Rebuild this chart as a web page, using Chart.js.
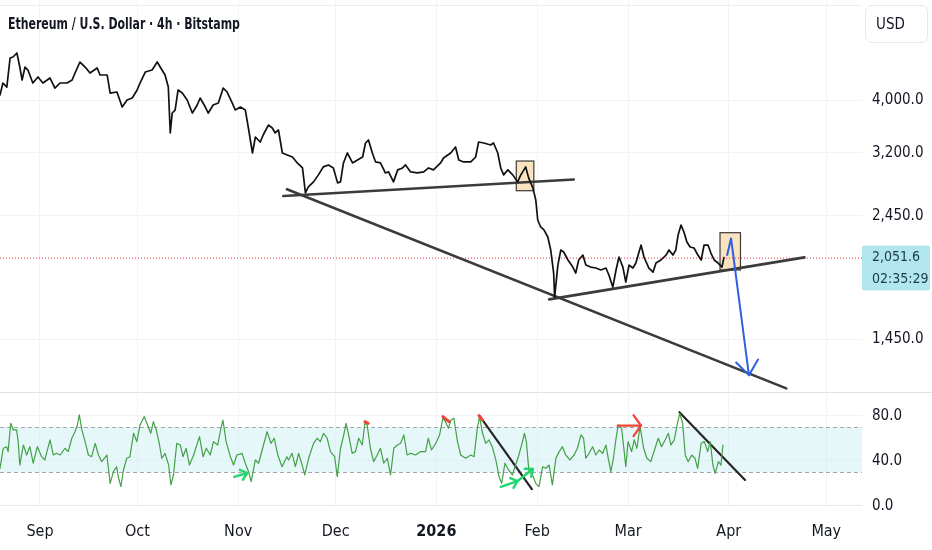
<!DOCTYPE html>
<html>
<head>
<meta charset="utf-8">
<script src="https://cdn.jsdelivr.net/npm/chart.js@4.4.1/dist/chart.umd.min.js"></script>
<style>
  html, body { margin: 0; padding: 0; background: #fff; }
  #wrap { position: relative; width: 932px; height: 550px; overflow: hidden;
          font-family: 'Liberation Sans Narrow', 'DejaVu Sans Condensed', Roboto, sans-serif; color: #131722; }
  #priceChart { position: absolute; left: 0; top: 0; }
  #rsiChart { position: absolute; left: 0; top: 392px; }
  #title { position: absolute; left: 8px; top: 14px; font-size: 16px; font-weight: bold; white-space: nowrap;
           transform: scaleX(0.76); transform-origin: left center; }
  #usd { position: absolute; left: 865px; top: 5px; width: 63px; height: 38px; box-sizing: border-box;
         border: 1px solid #e6e8ee; border-radius: 7px; font-size: 15px; line-height: 36px; padding-left: 10px; }
</style>
</head>
<body>
<div id="wrap">
  <canvas id="priceChart" width="932" height="392"></canvas>
  <canvas id="rsiChart" width="932" height="158"></canvas>
  <div id="title">Ethereum / U.S. Dollar · 4h · Bitstamp</div>
  <div id="usd">USD</div>
</div>
<script>
const FONT = "'Liberation Sans Narrow', 'DejaVu Sans Condensed', Roboto, sans-serif";

// x axis: days since 1 Sep 2025
const xMin = -12.3, xMax = 253;
const monthDays = [0, 30, 61, 91, 122, 153, 181, 212, 242];
const monthLabels = ['Sep', 'Oct', 'Nov', 'Dec', '2026', 'Feb', 'Mar', 'Apr', 'May'];

// price pane (log scale)
const priceTicks = [1450, 2450, 3200, 4000];
const priceMin = 1161, priceMax = 6111;
const lastPrice = 2051.6;
const countdown = '02:35:29';

const priceDays = [
  -12.3, -11.4, -10.2, -9.2, -8.3, -7.1, -6.2, -5.5, -4.6, -3.7,
  -2.2, -0.6, 0.9, 3.1, 4.6, 6.2, 8.3, 9.9, 10.8, 12.3,
  13.9, 15.4, 17.6, 18.5, 20.7, 21.6, 23.7, 25.3, 26.8, 28.4,
  29.9, 30.8, 32.4, 34.5, 36.1, 37.0, 38.5, 39.5, 40.1, 40.7,
  41.6, 42.5, 43.8, 45.3, 46.9, 48.4, 49.3, 50.9, 51.8, 53.3,
  54.9, 56.4, 57.6, 59.2, 60.1, 61.7, 63.2, 64.1, 65.4, 66.3,
  67.8, 68.7, 70.3, 71.5, 72.4, 73.4, 74.6, 76.1, 77.7, 79.2,
  80.8, 81.7, 82.6, 84.2, 85.7, 87.2, 88.8, 90.3, 91.6, 92.5,
  93.4, 94.6, 96.2, 97.7, 99.3, 100.2, 101.1, 102.3, 103.3, 104.8,
  106.3, 107.3, 108.8, 110.1, 111.6, 112.5, 114.1, 116.2, 118.1, 119.6,
  121.1, 123.3, 124.2, 126.4, 127.9, 128.9, 130.4, 132.6, 134.1, 135.0,
  136.6, 138.7, 139.6, 140.9, 141.8, 142.7, 144.0, 145.5, 147.0, 148.0,
  149.5, 150.4, 151.7, 152.6, 153.2, 154.1, 155.1, 156.3, 157.2, 158.1,
  158.4, 159.4, 160.3, 161.2, 162.5, 164.0, 164.9, 165.8, 167.1, 168.0,
  169.5, 171.1, 172.6, 174.2, 175.1, 176.3, 177.3, 178.2, 179.4, 180.3,
  181.3, 182.5, 183.4, 185.0, 185.9, 187.4, 188.7, 189.6, 191.1, 192.7,
  193.6, 194.8, 195.7, 196.4, 197.3, 198.2, 199.1, 200.1, 201.3, 202.5,
  203.5, 204.4, 205.6, 206.5, 207.5, 208.7, 209.9, 210.5
];
const priceValues = [
  4086, 4299, 4226, 4779, 4800, 4882, 4600, 4354, 4600, 4542,
  4299, 4410, 4299, 4391, 4208, 4299, 4299, 4354, 4485, 4699,
  4600, 4485, 4581, 4447, 4447, 4120, 4138, 3883, 4000, 4034,
  4173, 4299, 4504, 4542, 4699, 4600, 4447, 4226, 3479, 3786,
  3834, 4173, 4120, 4000, 3786, 3916, 4034, 3883, 3786, 3916,
  3949, 4208, 4138, 3949, 3834, 3883, 3834, 3568, 3196, 3420,
  3348, 3449, 3598, 3553, 3479, 3523, 3196, 3169, 3142, 3064,
  3000, 2699, 2769, 2828, 2913, 3013, 3038, 3000, 2816, 2828,
  3064, 3196, 3064, 3103, 3142, 3334, 3377, 3196, 3077, 3064,
  2937, 2950, 2828, 2975, 3000, 3038, 2950, 2937, 2950, 3000,
  2975, 3064, 3129, 3196, 3278, 3103, 3077, 3077, 3142, 3348,
  3334, 3306, 3334, 3196, 3000, 2913, 2975, 2913, 2828, 2913,
  3013, 2876, 2757, 2619, 2406, 2336, 2307, 2239, 2119, 1922,
  1736, 1988, 2119, 2101, 2031, 1971, 1922, 2031, 2074, 1988,
  1971, 1963, 1947, 1963, 1906, 1811, 1947, 2057, 1971, 1850,
  1988, 1963, 2005, 2164, 2057, 1963, 1930, 2005, 2031, 2074,
  2119, 2074, 2119, 2258, 2355, 2287, 2192, 2146, 2137, 2074,
  2031, 2164, 2164, 2092, 2031, 2005, 1971, 2051.6
];

// drawings on the price pane: [day, price]
const trendUpper = [[74.9, 2663], [164.3, 2856]];
const trendLower = [[76.0, 2740], [229.7, 1179]];
const trendRising = [[156.7, 1719], [235.3, 2054]];
const boxes = [[146.6, 152.0, 2724, 3089], [209.3, 215.6, 1947, 2280]]; // dayFrom, dayTo, low, high
const blueArrow = [[211.5, 2074], [212.7, 2226], [218.2, 1247]];

// RSI pane
const rsiTicks = [0, 40, 80];
const rsiMin = -0.9, rsiMax = 101.3;
const rsiUpper = 70, rsiLower = 30;

const rsiDays = [
  -12.3, -11.3, -10.3, -9.8, -9.0, -8.2, -7.2, -6.7, -6.2, -5.1,
  -4.1, -3.1, -2.1, -0.8, 0.5, 1.5, 3.1, 4.1, 5.1, 6.2,
  7.7, 8.7, 9.8, 10.8, 11.5, 12.1, 12.9, 13.9, 14.9, 15.9,
  17.0, 18.0, 19.0, 20.6, 21.6, 22.6, 23.6, 24.1, 24.9, 25.7,
  26.7, 27.7, 28.8, 29.8, 30.8, 32.1, 33.1, 34.1, 34.9, 35.8,
  36.8, 37.5, 38.5, 39.6, 40.3, 41.1, 42.1, 43.2, 44.0, 45.0,
  46.0, 47.3, 49.1, 50.2, 51.2, 52.4, 53.4, 54.7, 55.5, 56.3,
  57.3, 58.6, 59.6, 60.6, 62.2, 63.2, 64.2, 65.0, 66.3, 67.3,
  68.8, 69.9, 71.1, 72.1, 73.2, 74.5, 76.0, 76.5, 77.6, 78.6,
  79.6, 80.7, 81.5, 82.7, 84.2, 85.3, 86.3, 87.3, 88.4, 89.4,
  90.7, 91.5, 92.5, 93.5, 94.2, 95.0, 96.1, 97.1, 98.1, 99.2,
  100.0, 100.7, 101.7, 102.7, 103.8, 104.8, 105.8, 106.9, 107.9, 108.9,
  110.0, 111.0, 112.0, 113.0, 114.1, 115.6, 117.1, 118.7, 119.5, 120.5,
  121.8, 123.0, 124.0, 124.8, 125.7, 126.5, 127.4, 128.5, 129.5, 131.0,
  132.6, 133.6, 134.6, 135.3, 136.2, 137.2, 138.2, 139.2, 140.3, 141.3,
  142.1, 143.1, 144.2, 145.4, 146.4, 147.4, 148.5, 149.1, 149.7, 150.5,
  151.6, 152.6, 153.6, 154.7, 155.7, 156.7, 157.7, 158.8, 159.8, 160.8,
  161.8, 163.1, 164.4, 165.4, 166.5, 167.3, 168.0, 169.0, 170.1, 171.1,
  172.1, 173.2, 174.2, 174.9, 175.7, 176.5, 177.3, 178.0, 179.0, 179.6,
  180.3, 181.0, 182.1, 182.9, 183.7, 184.7, 185.8, 186.8, 188.0, 189.3,
  190.3, 191.3, 192.4, 193.4, 194.2, 195.2, 196.1, 196.9, 197.8, 198.6,
  199.5, 200.6, 201.6, 202.4, 203.5, 204.5, 205.5, 206.3, 207.1, 207.8,
  208.8, 209.6, 210.2
];
const rsiValues = [
  33.5, 51.3, 52.7, 48.3, 73.5, 67.6, 67.6, 57.2, 36.4, 54.2,
  45.3, 52.7, 38.0, 52.7, 43.8, 40.9, 58.7, 45.3, 46.8, 45.3,
  51.3, 48.3, 60.2, 66.0, 72.0, 80.9, 67.6, 57.2, 45.3, 43.8,
  55.7, 45.3, 39.4, 45.3, 20.1, 30.5, 34.9, 26.0, 17.2, 32.0,
  42.4, 43.8, 64.6, 57.2, 72.0, 79.4, 72.0, 64.6, 74.9, 67.6,
  54.2, 42.4, 46.8, 36.4, 18.7, 27.6, 55.7, 54.2, 43.8, 51.3,
  36.4, 45.3, 61.6, 43.8, 51.3, 45.3, 57.2, 54.2, 66.0, 76.4,
  57.2, 43.8, 36.4, 45.3, 46.8, 38.0, 30.5, 21.6, 40.9, 38.0,
  54.2, 66.0, 55.7, 60.2, 45.3, 34.9, 43.8, 40.9, 46.8, 34.9,
  46.8, 36.4, 27.6, 42.4, 55.7, 60.2, 57.2, 64.6, 60.2, 48.3,
  43.8, 26.0, 51.3, 63.1, 73.5, 63.1, 46.8, 48.3, 60.2, 54.2,
  73.5, 72.0, 51.3, 39.4, 45.3, 51.3, 38.0, 42.4, 27.6, 51.3,
  54.2, 55.7, 63.1, 45.3, 46.8, 45.3, 48.3, 48.3, 60.2, 49.8,
  55.7, 63.1, 78.0, 74.9, 69.0, 76.4, 78.0, 57.2, 45.3, 42.4,
  45.3, 43.8, 69.0, 79.4, 64.6, 55.7, 58.7, 52.7, 40.9, 26.0,
  20.1, 38.0, 32.0, 27.6, 36.4, 45.3, 57.2, 64.6, 57.2, 30.5,
  27.6, 20.1, 17.2, 34.9, 33.5, 36.4, 18.7, 42.4, 48.3, 52.7,
  45.3, 40.9, 45.3, 51.3, 63.1, 60.2, 42.4, 46.8, 52.7, 45.3,
  49.8, 46.8, 54.2, 42.4, 30.5, 42.4, 60.2, 72.0, 69.0, 54.2,
  34.9, 57.2, 48.3, 58.7, 51.3, 70.5, 51.3, 42.4, 39.4, 51.3,
  60.2, 52.7, 58.7, 64.6, 54.2, 58.7, 72.0, 82.4, 73.5, 45.3,
  39.4, 45.3, 42.4, 33.5, 55.7, 57.2, 48.3, 57.2, 36.4, 29.0,
  39.4, 36.4, 54.2
];

// drawings on the RSI pane: [day, rsi]
const rsiDown1 = [[135.3, 80], [151.4, 15]];
const rsiDown2 = [[196.8, 83.3], [217.0, 23.1]];
const greenArrow1 = [[59.8, 25.8], [63.8, 29.3]];
const greenArrow2 = [[141.8, 16.9], [147.0, 22.2], [151.7, 32.9]];
const redArrow = [[177.8, 71.4], [185.0, 71.4]];
const redMarks = [
  [[100.0, 74.9], [101.0, 73.5]],
  [[124.0, 79.4], [125.9, 74.9]],
  [[135.1, 80.3], [136.2, 76.4]]
];

const toPoints = (xs, ys) => xs.map((x, i) => ({ x: x, y: ys[i] }));
const pairs = arr => arr.map(p => ({ x: p[0], y: p[1] }));

function toPx(chart, p) {
  return [chart.scales.x.getPixelForValue(p[0]), chart.scales.y.getPixelForValue(p[1])];
}

function arrowHead(ctx, x0, y0, x1, y1, len, ang) {
  const a = Math.atan2(y0 - y1, x0 - x1);
  ctx.beginPath();
  ctx.moveTo(x1 + len * Math.cos(a + ang), y1 + len * Math.sin(a + ang));
  ctx.lineTo(x1, y1);
  ctx.lineTo(x1 + len * Math.cos(a - ang), y1 + len * Math.sin(a - ang));
  ctx.stroke();
}

function drawPath(chart, pts, color, width, headLen, headAng, allHeads) {
  const ctx = chart.ctx;
  const px = pts.map(p => toPx(chart, p));
  ctx.save();
  ctx.strokeStyle = color;
  ctx.lineWidth = width;
  ctx.lineCap = 'round';
  ctx.lineJoin = 'round';
  ctx.beginPath();
  px.forEach((p, i) => i ? ctx.lineTo(p[0], p[1]) : ctx.moveTo(p[0], p[1]));
  ctx.stroke();
  if (headLen) {
    for (let i = allHeads ? 1 : px.length - 1; i < px.length; i++) {
      arrowHead(ctx, px[i - 1][0], px[i - 1][1], px[i][0], px[i][1], headLen, headAng);
    }
  }
  ctx.restore();
}

const monthTicks = s => { s.ticks = monthDays.map(v => ({ value: v })); };
const gridColor = '#f1f3f6';

const lineSet = (data, color, width) => ({
  data: data, borderColor: color, borderWidth: width, pointRadius: 0,
  tension: 0, fill: false, borderCapStyle: 'round', borderJoinStyle: 'round'
});

const pricePlugin = {
  id: 'priceDrawings',
  beforeDatasetsDraw(chart) {
    const ctx = chart.ctx, area = chart.chartArea;
    ctx.save();
    ctx.strokeStyle = '#eceef2';
    ctx.lineWidth = 1;
    ctx.beginPath();
    ctx.moveTo(area.left, 5.5);
    ctx.lineTo(area.right, 5.5);
    ctx.stroke();
    ctx.restore();
    boxes.forEach(b => {
      const [x0, y1] = toPx(chart, [b[0], b[3]]);
      const [x1, y0] = toPx(chart, [b[1], b[2]]);
      ctx.save();
      ctx.fillStyle = 'rgba(246, 206, 140, 0.55)';
      ctx.fillRect(x0, y1, x1 - x0, y0 - y1);
      ctx.strokeStyle = '#3a3a3a';
      ctx.lineWidth = 1.2;
      ctx.strokeRect(x0, y1, x1 - x0, y0 - y1);
      ctx.restore();
    });
    const py = chart.scales.y.getPixelForValue(lastPrice);
    ctx.save();
    ctx.strokeStyle = '#f23645';
    ctx.lineWidth = 1;
    ctx.setLineDash([1, 2]);
    ctx.beginPath();
    ctx.moveTo(area.left, py + 0.5);
    ctx.lineTo(area.right, py + 0.5);
    ctx.stroke();
    ctx.restore();
  },
  afterDatasetsDraw(chart) {
    drawPath(chart, blueArrow, '#2f5fe3', 2, 18, 0.66, false);
  },
  afterDraw(chart) {
    const ctx = chart.ctx, area = chart.chartArea;
    const py = chart.scales.y.getPixelForValue(lastPrice);
    ctx.save();
    ctx.fillStyle = '#b2e6ee';
    ctx.beginPath();
    ctx.roundRect(area.right, py - 12, 68, 45, 2);
    ctx.fill();
    ctx.fillStyle = '#1d3b48';
    ctx.font = '14px ' + FONT;
    ctx.textBaseline = 'middle';
    ctx.textAlign = 'left';
    ctx.fillText(lastPrice.toLocaleString('en-US', { minimumFractionDigits: 1 }), area.right + 10, py);
    ctx.fillText(countdown, area.right + 10, py + 22);
    ctx.restore();
  }
};

new Chart(document.getElementById('priceChart'), {
  type: 'line',
  data: {
    datasets: [
      lineSet(toPoints(priceDays, priceValues), '#111111', 1.7),
      lineSet(pairs(trendUpper), '#3b3b3b', 2.6),
      lineSet(pairs(trendLower), '#3b3b3b', 2.6),
      lineSet(pairs(trendRising), '#3b3b3b', 2.6)
    ]
  },
  options: {
    responsive: false, animation: false, events: [],
    layout: { padding: 0 },
    plugins: { legend: { display: false }, tooltip: { enabled: false } },
    scales: {
      x: {
        type: 'linear', min: xMin, max: xMax,
        afterBuildTicks: monthTicks,
        afterFit: s => { s.height = 0; s.paddingLeft = 0; s.paddingRight = 0; },
        ticks: { display: false },
        grid: { color: gridColor, drawTicks: false },
        border: { display: false }
      },
      y: {
        type: 'logarithmic', position: 'right', min: priceMin, max: priceMax,
        afterBuildTicks: s => { s.ticks = priceTicks.map(v => ({ value: v })); },
        afterFit: s => { s.width = 70; s.paddingTop = 0; s.paddingBottom = 0; },
        ticks: {
          padding: 10, color: '#131722', font: { family: FONT, size: 15 },
          callback: v => v.toLocaleString('en-US', { minimumFractionDigits: 1, maximumFractionDigits: 1 })
        },
        grid: { color: gridColor, drawTicks: false },
        border: { display: false }
      }
    }
  },
  plugins: [pricePlugin]
});

const rsiPlugin = {
  id: 'rsiDrawings',
  beforeDatasetsDraw(chart) {
    const ctx = chart.ctx, area = chart.chartArea, y = chart.scales.y;
    const yU = y.getPixelForValue(rsiUpper), yL = y.getPixelForValue(rsiLower);
    ctx.save();
    ctx.fillStyle = 'rgba(200, 238, 244, 0.45)';
    ctx.fillRect(area.left, yU, area.right - area.left, yL - yU);
    ctx.strokeStyle = '#a3a6af';
    ctx.lineWidth = 1;
    ctx.setLineDash([4, 3]);
    [yU, yL].forEach(v => {
      ctx.beginPath();
      ctx.moveTo(area.left, Math.round(v) + 0.5);
      ctx.lineTo(area.right, Math.round(v) + 0.5);
      ctx.stroke();
    });
    ctx.setLineDash([]);
    ctx.strokeStyle = '#e0e3eb';
    ctx.beginPath();
    ctx.moveTo(0, area.top + 0.5);
    ctx.lineTo(chart.width, area.top + 0.5);
    ctx.stroke();
    ctx.restore();
  },
  afterDatasetsDraw(chart) {
    drawPath(chart, greenArrow1, '#22d66f', 2.4, 8, 0.7, false);
    drawPath(chart, greenArrow2, '#22d66f', 2.4, 8, 0.7, true);
    drawPath(chart, redArrow, '#f04438', 2.2, 13, 0.95, false);
    redMarks.forEach(m => drawPath(chart, m, '#f04438', 3, 0, 0, false));
  }
};

new Chart(document.getElementById('rsiChart'), {
  type: 'line',
  data: {
    datasets: [
      lineSet(toPoints(rsiDays, rsiValues), '#43a047', 1.2),
      lineSet(pairs(rsiDown1), '#262626', 2.2),
      lineSet(pairs(rsiDown2), '#262626', 2.2)
    ]
  },
  options: {
    responsive: false, animation: false, events: [],
    layout: { padding: 0 },
    plugins: { legend: { display: false }, tooltip: { enabled: false } },
    scales: {
      x: {
        type: 'linear', min: xMin, max: xMax,
        afterBuildTicks: monthTicks,
        afterFit: s => { s.height = 43; s.paddingLeft = 0; s.paddingRight = 0; },
        ticks: {
          padding: 15, color: '#131722', autoSkip: false, maxRotation: 0,
          font: c => ({ family: FONT, size: 16, weight: c.tick && c.tick.value === 122 ? 'bold' : 'normal' }),
          callback: v => monthLabels[monthDays.indexOf(v)]
        },
        grid: { color: gridColor, drawTicks: false },
        border: { display: false }
      },
      y: {
        position: 'right', min: rsiMin, max: rsiMax,
        afterBuildTicks: s => { s.ticks = rsiTicks.map(v => ({ value: v })); },
        afterFit: s => { s.width = 70; s.paddingTop = 0; s.paddingBottom = 0; },
        ticks: {
          padding: 10, color: '#131722', font: { family: FONT, size: 15 },
          callback: v => v.toFixed(1)
        },
        grid: { color: c => c.tick && c.tick.value === 0 ? '#e6e8ee' : gridColor, drawTicks: false },
        border: { display: false }
      }
    }
  },
  plugins: [rsiPlugin]
});
</script>
</body>
</html>
